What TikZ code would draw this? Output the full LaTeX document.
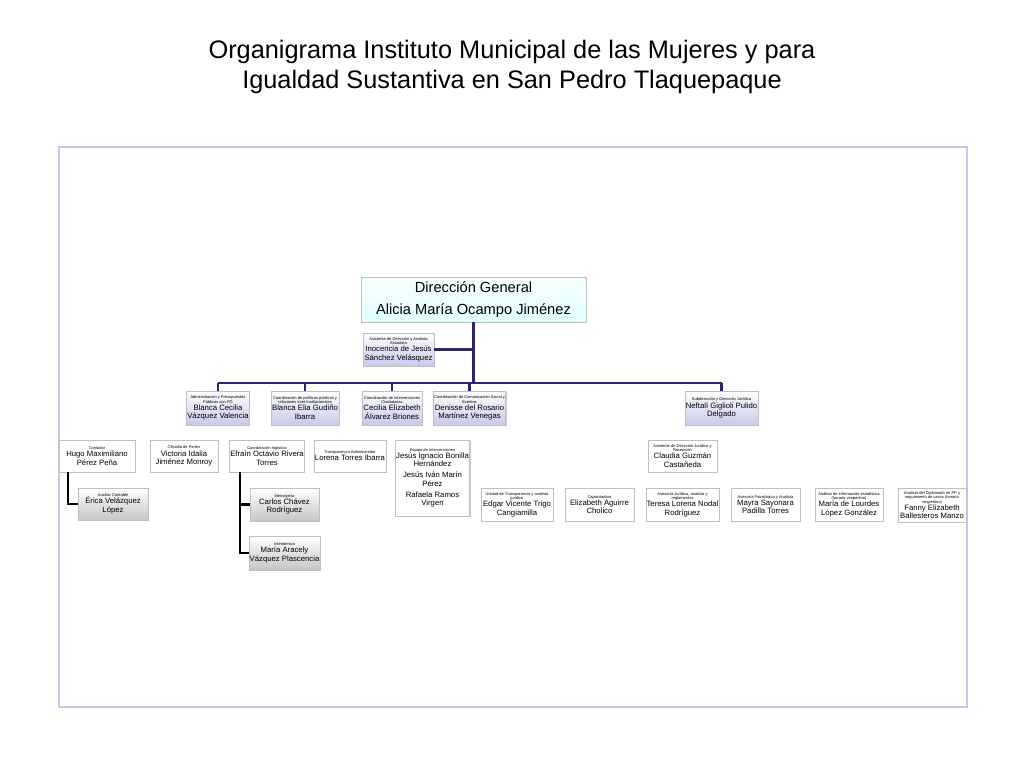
\documentclass[tikz,border=0pt]{standalone}
\usepackage{fontspec}
\setmainfont{Liberation Sans}
\usetikzlibrary{shadows}
\definecolor{navy}{RGB}{40,35,115}
\definecolor{lav}{RGB}{200,200,235}
\newcommand\ttl[1]{{\fontsize{3}{3.4}\selectfont #1}}
\tikzset{
 sz/.style 2 args={minimum width=#1*0.75pt, minimum height=#2*0.75pt},
 base/.style={draw=gray!50, line width=0.3pt, align=center, inner sep=0.5pt, drop shadow={opacity=0.4,shadow xshift=0.8pt,shadow yshift=-0.8pt}, font=\fontsize{5.8}{6.3}\selectfont},
 wbox/.style={base, fill=white},
 lbox/.style={base, top color=white, bottom color=lav},
 gbox/.style={base, top color=white, bottom color=gray!45},
 bus/.style={navy, line width=2.2pt},
 blk/.style={black, line width=2.2pt}
}
\begin{document}
\begin{tikzpicture}[x=0.75pt,y=-0.75pt]
\useasboundingbox (0,0) rectangle (1024,768);
\node[font=\fontsize{19}{22.5}\selectfont, align=center] (title) at (512,67) {Organigrama Instituto Municipal de las Mujeres y para\\Igualdad Sustantiva en San Pedro Tlaquepaque};
\draw[draw=lav, line width=0.8pt] (59,147) rectangle (967,707);
\node[base, top color=cyan!3, bottom color=cyan!12, sz={225}{45}, font=\fontsize{11}{17}\selectfont] (dg) at (473.5,299.5) {Dirección General\\Alicia María Ocampo Jiménez};
\coordinate (bus) at (0,383);
\node[lbox, sz={71}{33}] (asis) at (398.5,349.5) {\ttl{Asistente de Dirección y Analista}\\[-3pt]\ttl{Estadista}\\[-1pt]Inocencia de Jesús\\Sánchez Velásquez};
\node[lbox, sz={62}{34}] (b1) at (218,408) {\ttl{Administración y Presupuestos}\\[-3pt]\ttl{Públicos con PG}\\[-1pt]Blanca Cecilia\\Vázquez Valencia};
\node[lbox, sz={68}{34}] (b2) at (305,408) {\ttl{Coordinación de políticas públicas y}\\[-3pt]\ttl{relaciones inter-institucionales}\\[-1pt]Blanca Elia Gudiño\\Ibarra};
\node[lbox, sz={60}{34}] (b3) at (392,408) {\ttl{Coordinación de Intervenciones}\\[-3pt]\ttl{Ciudadanas}\\[-1pt]Cecilia Elizabeth\\Álvarez Briones};
\node[lbox, sz={65}{34}] (b4) at (469.5,408) {\ttl{Coordinación de Comunicación Social y}\\[-3pt]\ttl{Eventos}\\[-1pt]Denisse del Rosario\\Martínez Venegas};
\node[lbox, sz={69}{34}] (b5) at (721.5,408) {\ttl{Subdirección y Dirección Jurídica}\\[-1pt]Neftalí Giglioli Pulido\\Delgado};
\draw[bus] (dg.south) -- (dg.south |- bus);
\draw[bus] (asis.east) -- (asis.east -| dg.south);
\draw[bus] (b1.north |- bus) -- (b5.north |- bus);
\foreach \n in {b1,b2,b3,b4,b5} \draw[bus] (\n.north) -- (\n.north |- bus);
\node[wbox, sz={76}{32}] (hugo) at (97,456) {\ttl{Contador}\\[-1pt]Hugo Maximiliano\\Pérez Peña};
\node[wbox, sz={68}{32}] (vic) at (184,456) {\ttl{Oficialía de Partes}\\[-1pt]Victoria Idalia\\Jiménez Monroy};
\node[wbox, sz={68}{32}] (efr) at (267,456) {\ttl{Coordinación logística}\\[-1pt]Efraín Octavio Rivera\\Torres};
\node[wbox, sz={68}{32}] (lor) at (350,456) {\ttl{Transparencia Administrador}\\[-1pt]Lorena Torres Ibarra};
\node[wbox, sz={67}{76}] (equ) at (432.5,478) {\ttl{Equipo de Intervenciones}\\[-1pt]Jesús Ignacio Bonilla\\Hernández\\[2pt]Jesús Iván Marín\\Pérez\\[2pt]Rafaela Ramos\\Virgen};
\node[gbox, sz={70}{32}] (eri) at (113,504) {\ttl{Auxiliar Contable}\\[-1pt]Érica Velázquez\\López};
\node[gbox, sz={69}{33}] (car) at (284.5,504.5) {\ttl{Mensajería}\\[-1pt]Carlos Chávez\\Rodríguez};
\node[gbox, sz={69}{34}] (mar) at (284.5,553) {\ttl{Intendencia}\\[-1pt]María Aracely\\Vázquez Plascencia};
\coordinate (h1) at (68,472);
\coordinate (e1) at (240,472);
\draw[blk] (h1) |- (eri.west);
\draw[blk] (e1) |- (mar.west);
\draw[blk] (car.west -| e1) -- (car.west);
\node[wbox, sz={69}{32}] (cla) at (682.5,456) {\ttl{Asistente de Dirección Jurídica y}\\[-3pt]\ttl{Recepción}\\[-1pt]Claudia Guzmán\\Castañeda};
\node[wbox, sz={72}{33}] (edg) at (517,504.5) {\ttl{Unidad de Transparencia y analista}\\[-3pt]\ttl{jurídico}\\[-1pt]Edgar Vicente Trigo\\Cangiamilla};
\node[wbox, sz={69}{33}] (eli) at (599.5,504.5) {\ttl{Capacitadora}\\[-1pt]Elizabeth Aguirre\\Cholico};
\node[wbox, sz={69}{33}] (ter) at (682.5,504.5) {\ttl{Asesoría Jurídica, analista y}\\[-3pt]\ttl{reglamentos}\\[-1pt]Teresa Lorena Nodal\\Rodríguez};
\node[wbox, sz={69}{33}] (may) at (765.5,504.5) {\ttl{Asesoría Psicológica y Analista}\\[-1pt]Mayra Sayonara\\Padilla Torres};
\node[wbox, sz={68}{33}] (mlo) at (849,504.5) {\ttl{Análisis de información estadística}\\[-3pt]\ttl{(horario vespertino)}\\[-1pt]María de  Lourdes\\López González};
\node[wbox, sz={68}{34}] (fan) at (932,505) {\ttl{Analista del Diplomado en PP y}\\[-3pt]\ttl{seguimiento de casos (horario}\\[-3pt]\ttl{vespertino)}\\[-1pt]Fanny Elizabeth\\Ballesteros Manzo};
\end{tikzpicture}
\end{document}
